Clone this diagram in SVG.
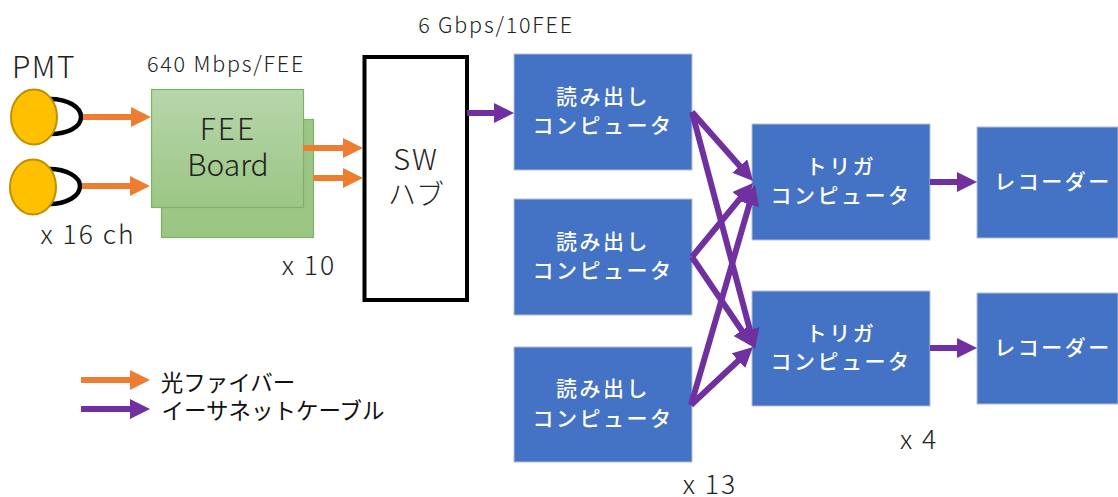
<svg xmlns="http://www.w3.org/2000/svg" width="1118" height="497" viewBox="0 0 1118 497">
<style>
text{font-family:"Noto Sans CJK JP","Noto Sans",sans-serif;fill:#222;text-anchor:middle;font-weight:300}
.w{fill:#fff;font-size:21px;font-weight:500;letter-spacing:2.5px}
.n{font-size:21.5px;letter-spacing:1.8px}
.c{font-size:26.500px;letter-spacing:2px}
.l{font-size:22.500px;font-weight:400;fill:#111}
.blue{fill:#4472C4;stroke:#B4C0D4;stroke-width:1}
.o{stroke:#ED7D31;stroke-width:6;fill:none;marker-end:url(#ao)}
.p{stroke:#7030A0;stroke-width:6;fill:none;marker-end:url(#ap)}
.pmt{fill:#FFC000;stroke:#BF9000;stroke-width:2}
.loop{fill:none;stroke:#000;stroke-width:4.5}
.fee{stroke:#7FB266;stroke-width:1.2}
</style>
<defs>
<marker id="ao" markerUnits="userSpaceOnUse" markerWidth="20" markerHeight="20" refX="10" refY="10" orient="auto"><path d="M0 0L20 10L0 20Z" fill="#ED7D31"/></marker>
<marker id="ap" markerUnits="userSpaceOnUse" markerWidth="20" markerHeight="20" refX="10" refY="10" orient="auto"><path d="M0 0L20 10L0 20Z" fill="#7030A0"/></marker>
<linearGradient id="g" x1="0" y1="0" x2="0" y2="1"><stop offset="0" stop-color="#B7D6AA"/><stop offset="1" stop-color="#9BC684"/></linearGradient>
</defs>
<g id="pmt-1"><path class="loop" d="M50 99C68 99 81 107 81 117C81 127 68 134 50 134"/><ellipse class="pmt" cx="34" cy="117" rx="23" ry="27.5"/></g>
<g id="pmt-2"><path class="loop" d="M49 169C67 169 80 177 80 186C80 196 67 204 49 204"/><ellipse class="pmt" cx="33" cy="187" rx="23" ry="27.5"/></g>
<g id="fee-back"><rect class="fee" x="161.500" y="119.500" width="152" height="118" fill="#9BC684"/></g>
<g id="fee-front"><rect class="fee" x="151.500" y="89.500" width="152" height="118" fill="url(#g)"/>
<text x="228" y="140" font-size="30" letter-spacing="2">FEE</text><text x="228" y="176" font-size="30">Board</text></g>
<g id="sw"><rect x="364.500" y="57" width="102.500" height="243" fill="#fff" stroke="#000" stroke-width="4"/>
<text x="416" y="170" font-size="29" letter-spacing="2">SW</text><text x="416" y="205" font-size="28">ハブ</text></g>
<g id="reader-1"><rect class="blue" x="514" y="54" width="178" height="116"/><text class="w" x="603" y="104">読み出し</text><text class="w" x="603" y="133">コンピュータ</text></g>
<g id="reader-2"><rect class="blue" x="514" y="199" width="178" height="116"/><text class="w" x="603" y="249">読み出し</text><text class="w" x="603" y="278">コンピュータ</text></g>
<g id="reader-3"><rect class="blue" x="514" y="347" width="178" height="115"/><text class="w" x="603" y="396">読み出し</text><text class="w" x="603" y="426">コンピュータ</text></g>
<g id="trigger-1"><rect class="blue" x="752" y="124" width="178" height="116"/><text class="w" x="841" y="174">トリガ</text><text class="w" x="841" y="203">コンピュータ</text></g>
<g id="trigger-2"><rect class="blue" x="752" y="291" width="178" height="115"/><text class="w" x="841" y="341">トリガ</text><text class="w" x="841" y="369">コンピュータ</text></g>
<g id="recorder-1"><rect class="blue" x="977" y="127" width="141" height="111"/><text class="w" x="1053" y="189">レコーダー</text></g>
<g id="recorder-2"><rect class="blue" x="977" y="293" width="141" height="111"/><text class="w" x="1053" y="355">レコーダー</text></g>
<g id="connectors">
<path class="o" d="M83 117H141"/><path class="o" d="M82 186H140"/>
<path class="o" d="M303 148H353"/><path class="o" d="M313 178H353"/>
<path class="p" d="M467 113H504"/>
<path class="p" d="M692 112L746.400 173.500"/><path class="p" d="M692 112L752.400 339.300"/>
<path class="p" d="M692 257L746.600 190.700"/><path class="p" d="M692 257L747.400 338.700"/>
<path class="p" d="M691 405L752.200 194.600"/><path class="p" d="M691 405L745.700 353.800"/>
<path class="p" d="M930 182H967"/><path class="p" d="M930 348H967"/>
<path class="o" d="M81 380H140"/><path class="p" d="M81 409H140"/>
</g>
<g id="labels">
<text x="44" y="78" font-size="30" letter-spacing="1.500">PMT</text>
<text class="n" x="226" y="72">640 Mbps/FEE</text>
<text class="n" x="496" y="33">6 Gbps/10FEE</text>
<text class="c" x="88" y="244">x 16 ch</text>
<text class="c" x="309" y="275">x 10</text>
<text class="c" x="919" y="449">x 4</text>
<text class="c" x="710" y="494">x 13</text>
<text class="l" x="228" y="391">光ファイバー</text>
<text class="l" x="273" y="419">イーサネットケーブル</text>
</g>
</svg>
